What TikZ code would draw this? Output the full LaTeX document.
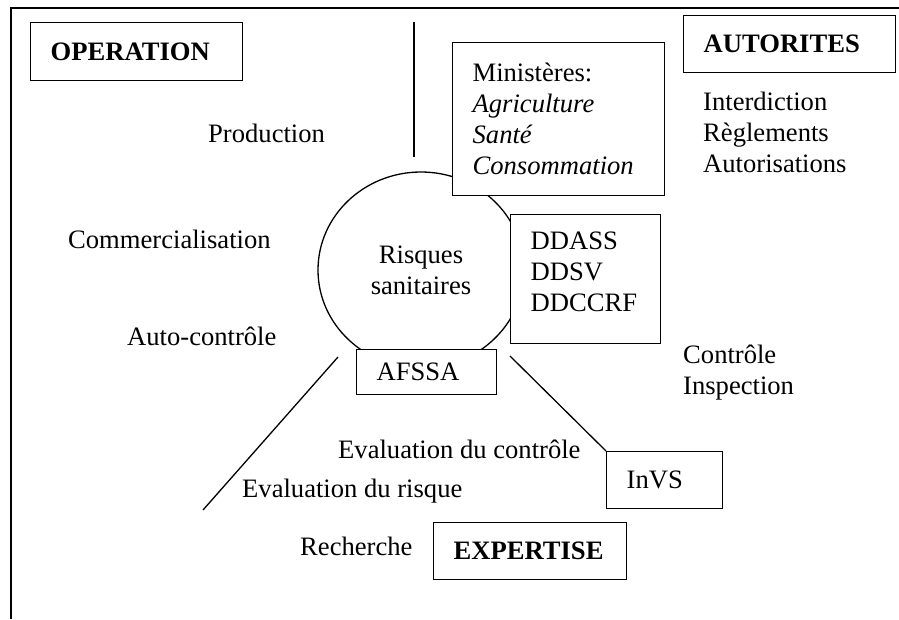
\documentclass[tikz,border=0pt]{standalone}
\usepackage{fontspec}
\setmainfont{Liberation Serif}
\usetikzlibrary{shapes.geometric}

\begin{document}
\begin{tikzpicture}[x=1pt, y=-1pt]
\tikzset{boite/.style={draw, fill=white, line width=1.3pt, anchor=north west, align=left, inner xsep=20pt, font=\fontsize{26.6}{31}\selectfont}}
\tikzset{texte/.style={anchor=base west, inner sep=0pt, align=left, font=\fontsize{26.6}{31}\selectfont}}
\useasboundingbox (0,0) rectangle (899,619);
\draw[line width=1.3pt] (11,619) -- (11,8) -- (899,8);
% le cercle au centre
\node[draw, ellipse, line width=1.3pt, minimum width=206pt, minimum height=196pt, inner sep=0pt, align=center, font=\fontsize{26.6}{31}\selectfont] (risques) at (421,270) {Risques\\sanitaires};
% les cadres
\node[boite, text width=172pt, minimum height=58pt] (operation) at (30,22) {\textbf{OPERATION}};
\node[boite, text width=172pt, minimum height=57pt] (autorites) at (683,15) {\textbf{AUTORITES}};
\node[boite, text width=172pt, minimum height=153pt] (ministeres) at (452,42) {Ministères:\\\textit{Agriculture}\\\textit{Santé}\\\textit{Consommation}};
\node[boite, text width=110pt, minimum height=129pt, text depth=77pt] (ddass) at (510,214) {DDASS\\DDSV\\DDCCRF};
\node[boite, text width=100pt, minimum height=45pt] (afssa) at (356,349) {AFSSA};
\node[boite, text width=76pt, minimum height=57pt] (invs) at (606,451) {InVS};
\node[boite, text width=153pt, minimum height=57pt] (expertise) at (433,522) {\textbf{EXPERTISE}};
% les textes
\node[texte] (production) at (208,142) {Production};
\node[texte] (commerce) at (68,248) {Commercialisation};
\node[texte] (autocontrole) at (127,345) {Auto-contrôle};
\node[texte] (interdiction) at (703,172) {Interdiction\\Règlements\\Autorisations};
\node[texte] (controle) at (683,394) {Contrôle\\Inspection};
\node[texte] (evalcontrole) at (338,458) {Evaluation du contrôle};
\node[texte] (evalrisque) at (242,497) {Evaluation du risque};
\node[texte] (recherche) at (300,555) {Recherche};
% les separations
\coordinate (sep1) at (414,22);
\coordinate (sep2) at (414,157);
\coordinate (sep3) at (338,357);
\coordinate (sep4) at (203,510);
\coordinate (sep5) at (510,356);
\draw[line width=1.3pt] (sep1) -- (sep2);
\draw[line width=1.3pt] (sep3) -- (sep4);
\draw[line width=1.3pt] (sep5) -- (invs.north west);
\end{tikzpicture}
\end{document}
